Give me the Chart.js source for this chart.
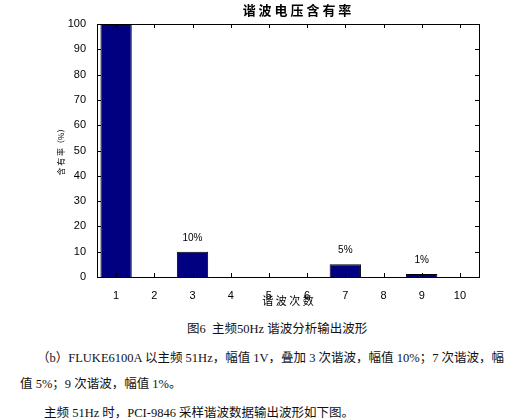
<!DOCTYPE html>
<html><head><meta charset="utf-8">
<script src="https://cdn.jsdelivr.net/npm/chart.js@4"></script>
<style>
body{margin:0;background:#fff;width:529px;height:420px;position:relative;overflow:hidden;font-family:"Liberation Serif","Noto Sans CJK SC",serif;}
canvas{position:absolute;left:0;top:0}
.t{position:absolute;font-size:12.5px;color:#111;white-space:nowrap}
</style></head><body>
<canvas id="c" width="529" height="310"></canvas>
<div class="t" style="left:187px;top:318px">图6&nbsp; 主频50Hz 谐波分析输出波形</div>
<div class="t" style="left:37px;top:347px">（b）FLUKE6100A 以主频 51Hz，幅值 1V，叠加 3 次谐波，幅值 10%；7 次谐波，幅</div>
<div class="t" style="left:20px;top:373px">值 5%；9 次谐波，幅值 1%。</div>
<div class="t" style="left:44px;top:402px">主频 51Hz 时，PCI-9846 采样谐波数据输出波形如下图。</div>
<script>
const categories=['1','2','3','4','5','6','7','8','9','10'];
const values=[100,0,10,0,0,0,5,0,1.2,0];
const labels=['','','10%','','','','5%','','1%',''];
const yTicks=[0,10,20,30,40,50,60,70,80,90,100];
const frame={id:'frame',afterDraw(ch){
 const c=ch.ctx,a=ch.chartArea,x=ch.scales.x,y=ch.scales.y;
 c.save();c.strokeStyle='#000';c.lineWidth=1;
 c.strokeRect(a.left+0.5,a.top+0.5,a.right-a.left,a.bottom-a.top);
 c.beginPath();
 yTicks.forEach(v=>{const p=Math.round(y.getPixelForValue(v))+0.5;c.moveTo(a.left,p);c.lineTo(a.left+4,p);c.moveTo(a.right,p);c.lineTo(a.right-4,p);});
 categories.forEach((k,i)=>{const p=Math.round(x.getPixelForValue(i))+0.5;c.moveTo(p,a.bottom);c.lineTo(p,a.bottom-4);c.moveTo(p,a.top);c.lineTo(p,a.top+4);});
 c.stroke();
 c.fillStyle='#000';c.textAlign='center';
 c.font='bold 13px "Noto Sans CJK SC"';c.fillText('谐 波 电 压 含 有 率',a.left+(a.right-a.left)/2+9,15);
 c.font='11px "Noto Sans CJK SC"';c.fillText('谐 波 次 数',x.getPixelForValue(4.5),a.bottom+28);
 c.save();c.translate(64,150);c.rotate(-Math.PI/2);c.font='8px "Noto Sans CJK SC"';c.fillText('含 有 率（%）',0,0);c.restore();
 c.font='10px Arial';
 const m=ch.getDatasetMeta(0);
 labels.forEach((l,i)=>{if(l)c.fillText(l,m.data[i].x,y.getPixelForValue(values[i])-11);});
 c.restore();}};
new Chart(document.getElementById('c'),{type:'bar',
 data:{labels:categories,datasets:[{data:values,backgroundColor:'#000080',borderColor:'#000',borderWidth:1,barPercentage:0.82,categoryPercentage:1}]},
 options:{responsive:false,animation:false,events:[],
  layout:{padding:{left:67,right:50,top:24,bottom:10}},
  plugins:{legend:{display:false},tooltip:{enabled:false}},
  scales:{
   x:{grid:{display:false},border:{display:false},ticks:{color:'#000',font:{family:'Arial',size:11},padding:4},afterFit:s=>{s.height=23;}},
   y:{min:0,max:100,afterBuildTicks:s=>{s.ticks=yTicks.map(v=>({value:v}));},grid:{display:false},border:{display:false},ticks:{color:'#000',font:{family:'Arial',size:11},padding:3},afterFit:s=>{s.width=30;}}
  }},plugins:[frame]});
</script></body></html>
